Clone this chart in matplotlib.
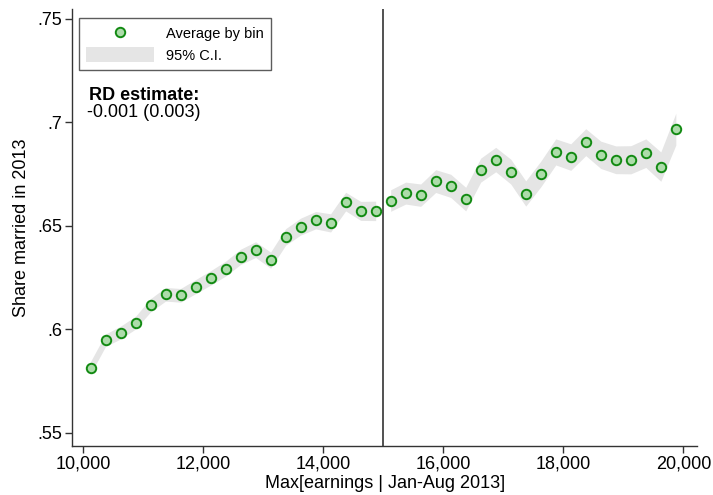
import matplotlib
matplotlib.use("Agg")
import matplotlib.pyplot as plt
from matplotlib.lines import Line2D
from matplotlib.patches import Patch
import numpy as np

plt.rcParams['font.family'] = ['Liberation Sans', 'DejaVu Sans']

# Bin centers (earnings), below and above the 15,000 threshold
bins_left = [10125, 10375, 10625, 10875, 11125, 11375, 11625, 11875, 12125, 12375,
             12625, 12875, 13125, 13375, 13625, 13875, 14125, 14375, 14625, 14875]
bins_right = [15125, 15375, 15625, 15875, 16125, 16375, 16625, 16875, 17125, 17375,
              17625, 17875, 18125, 18375, 18625, 18875, 19125, 19375, 19625, 19875]

# Average share married by bin
mean_left = [0.5814, 0.5947, 0.5984, 0.6032, 0.6116, 0.6169, 0.6164, 0.6206, 0.6248, 0.6293,
             0.6350, 0.6385, 0.6334, 0.6446, 0.6496, 0.6527, 0.6514, 0.6617, 0.6572, 0.6572]
mean_right = [0.6622, 0.6658, 0.6648, 0.6716, 0.6693, 0.6629, 0.6769, 0.6820, 0.6762, 0.6656,
              0.6750, 0.6857, 0.6832, 0.6904, 0.6843, 0.6819, 0.6819, 0.6851, 0.6786, 0.6967]

# Half-width of the 95% confidence interval by bin
ci_half_left = [0.0030, 0.0030, 0.0031, 0.0031, 0.0032, 0.0033, 0.0033, 0.0034, 0.0035, 0.0036,
                0.0037, 0.0038, 0.0039, 0.0040, 0.0041, 0.0042, 0.0044, 0.0045, 0.0046, 0.0047]
ci_half_right = [0.0052, 0.0053, 0.0054, 0.0055, 0.0056, 0.0057, 0.0058, 0.0059, 0.0060, 0.0061,
                 0.0062, 0.0063, 0.0064, 0.0065, 0.0066, 0.0067, 0.0068, 0.0069, 0.0071, 0.0077]

threshold = 15000
x_ticks = [10000, 12000, 14000, 16000, 18000, 20000]
y_ticks = [0.55, 0.60, 0.65, 0.70, 0.75]
y_tick_labels = ['.55', '.6', '.65', '.7', '.75']
rd_text = "-0.001 (0.003)"

band_color = '#e5e5e5'
marker_face = '#addcaa'
marker_edge = '#128a12'

fig = plt.figure(figsize=(7.13, 4.95), dpi=100)
ax = fig.add_axes([0.101, 0.099, 0.877, 0.883])

for xs, ms, hs in ((bins_left, mean_left, ci_half_left), (bins_right, mean_right, ci_half_right)):
    xs = np.asarray(xs)
    ms = np.asarray(ms)
    hs = np.asarray(hs)
    ax.fill_between(xs, ms - hs, ms + hs, color=band_color, linewidth=0, zorder=1)
    ax.plot(xs, ms, linestyle='none', marker='o', markersize=6.8,
            markerfacecolor=marker_face, markeredgecolor=marker_edge,
            markeredgewidth=1.4, zorder=3)

ax.axvline(threshold, color='#222222', linewidth=1.1, zorder=2)

ax.set_xlim(9817, 20233)
ax.set_ylim(0.5436, 0.7548)
ax.set_xticks(x_ticks)
ax.set_xticklabels([f"{v:,}" for v in x_ticks])
ax.set_yticks(y_ticks)
ax.set_yticklabels(y_tick_labels)

for side in ('top', 'right'):
    ax.spines[side].set_visible(False)
for side in ('left', 'bottom'):
    ax.spines[side].set_color('#333333')
    ax.spines[side].set_linewidth(1.0)
ax.tick_params(axis='both', direction='out', length=5, width=1.0, color='#333333',
               labelsize=13, pad=2)

ax.set_xlabel("Max[earnings | Jan-Aug 2013]", fontsize=13, labelpad=2)
ax.set_ylabel("Share married in 2013", fontsize=13, labelpad=5)

handles = [
    Line2D([], [], linestyle='none', marker='o', markersize=6.8,
           markerfacecolor=marker_face, markeredgecolor=marker_edge, markeredgewidth=1.4),
    Patch(facecolor=band_color, edgecolor='none'),
]
leg = ax.legend(handles, ["Average by bin", "95% C.I."], loc='upper left',
                bbox_to_anchor=(0.0105, 0.979), frameon=True, fancybox=False,
                edgecolor='#333333', fontsize=10.5, handlelength=4.7, handleheight=1.23,
                handletextpad=0.8, borderpad=0.5, labelspacing=0.42,
                borderaxespad=0.0)
leg.get_frame().set_linewidth(1.0)

ax.text(0.0275, 0.803, "RD estimate:", transform=ax.transAxes, fontsize=13,
        fontweight='bold', ha='left', va='center')
ax.text(0.0235, 0.764, rd_text, transform=ax.transAxes, fontsize=13,
        ha='left', va='center')

fig.savefig("out.png", dpi=100)
